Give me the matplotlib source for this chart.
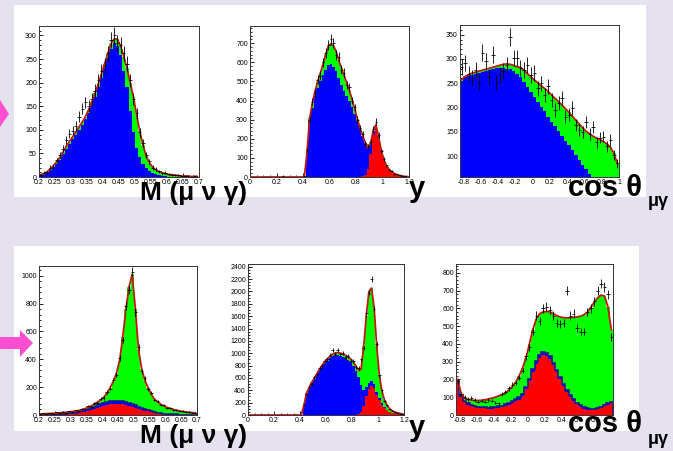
import numpy as np
import matplotlib.pyplot as plt
from matplotlib.patches import Rectangle, Polygon
from matplotlib.ticker import MultipleLocator, FormatStrFormatter

plt.rcParams['font.family'] = ['Liberation Sans', 'DejaVu Sans']

# ---- top row: M(mu nu gamma), y, cos theta ----
m_lo, m_hi = 0.2, 0.7
red1 = [0,0,0,0,0,0,0,0,0,0, 0,0,0,0,0,0,0,0,0,0, 0,0,0,0,0,0,0,0,0,0,
        0,0,0,0,0,0,0,0,0,0, 0,0,0,0,0,0,0,0,0,0]
blue1 = [2,4,8,14,20,28,37,48,60,70, 80,90,100,110,122,136,152,170,190,210,
         232,252,272,283,278,258,225,190,140,95, 62,42,28,19,13,9,6,4,3,2,
         1,1,1,0,0,0,0,0,0,0]
green1 = [3,3,3,3,4,4,4,4,5,5, 5,5,6,6,6,6,7,7,7,8, 8,9,10,10,14,20,30,40,60,75,
          70,55,40,25,17,12,9,7,6,5, 4,4,3,3,2,2,2,1,1,1]
data1 = [4,9,10,20,22,35,46,60,78,92, 98,108,128,145,158,150,165,183,205,225,
         236,262,290,300,285,280,262,240,205,165, 135,95,72,46,33,20,18,12,8,9,
         6,5,4,4,2,3,2,1,2,1]

y_lo, y_hi = 0.0, 1.2
red2 = [0]*21 + [2,2,2,2,2,2,2,2,2,2, 2,2,2,2,2,2,2,2,2,2,
                 2,3,12,40,120,220,265,210,140,90, 60,40,27,18,12,8,5,3,2]
blue2 = [0]*21 + [120,290,360,420,465,500,530,560,585,590,
                  575,550,515,480,450,420,395,365,330,290,
                  250,210,165,110,55,20,8,3,1,0, 0,0,0,0,0,0,0,0,0]
green2 = [0]*21 + [5,15,20,25,30,40,55,75,95,105,
                   110,105,95,88,80,70,55,40,25,12,
                   6,4,3,2,2,2,1,1,1,1, 0,0,0,0,0,0,0,0,0]
data2 = [0,0,0,0,0,2,0,0,0,0, 0,0,3,0,0,0,0,0,1,0, 4,
         140,300,395,440,510,530,600,650,690,720,
         700,640,630,560,545,480,470,400,365,300,
         255,225,175,160,185,250,290,220,135,95,
         62,38,30,16,14,9,5,4,2]

c_lo, c_hi = -0.84, 1.0
red3 = [0,0,0,0,0,0,0,0,0,0, 0,0,0,0,0,0,0,0,0,0, 0,0,0,0,0,0,0,0,0,0,
        0,0,0,0,0,0,0,0,0,0, 0,0,0,0,0,0]
blue3 = [255,262,266,268,270,272,274,276,278,280, 281,281,281,280,279,276,270,262,252,242,
         232,222,212,202,192,181,171,161,152,142, 132,122,112,102,92,82,73,64,56,48,
         40,32,25,18,12,6]
green3 = [3,2,2,3,3,3,3,3,3,3, 4,6,8,10,10,11,14,21,25,28,
          31,35,39,43,47,52,55,58,60,63, 66,68,70,72,74,76,78,82,85,89,
          94,98,100,100,94,79]
data3 = [284,292,270,261,278,251,313,295,263,309, 251,267,275,288,346,302,302,282,278,288,
         267,271,240,250,226,244,215,195,209,220, 181,185,199,164,154,150,170,145,160,129,
         138,140,120,133,102,85]

# ---- bottom row ----
red4 = [2,2,2,3,3,4,5,6,7,8, 10,12,15,19,24,30,37,44,52,60,
        67,72,76,79,80,79,76,72,66,60, 53,46,39,32,26,20,16,12,9,7,
        5,4,3,3,2,2,2,1,1,1]
blue4 = [1,1,1,1,2,2,2,3,3,3, 4,5,6,8,10,12,14,16,18,20,
         21,22,23,23,23,23,22,21,20,18, 16,14,12,10,8,7,6,5,4,3,
         3,2,2,2,1,1,1,1,1,1]
green4 = [5,6,7,7,7,8,9,9,10,11, 11,11,11,11,11,13,14,18,22,28,
          40,61,96,138,197,288,462,667,834,932, 691,410,279,208,161,123,93,78,65,55,
          47,41,35,29,26,22,19,17,15,13]
data4 = [5,12,8,14,10,18,13,22,17,26, 22,33,30,44,40,62,60,84,88,115,
         122,165,190,250,290,410,540,780,900,1030, 740,490,315,265,185,160,108,100,72,70,
         50,52,36,38,26,28,18,22,14,17]

red5 = [0]*21 + [2,2,2,2,2,2,2,2,2,2, 2,2,2,2,2,2,2,2,2,2, 2,
                 10,50,150,300,420,470,430,330,240,170,115,75,50,35,25,17,12,8]
blue5 = [0]*21 + [150,340,430,510,580,650,720,780,835,880,
                  920,950,965,970,960,945,920,890,850,790, 710,
                  600,440,260,160,100,85,65,45,30,20,14,9,6,4,3,2,1,1]
green5 = [0]*21 + [5,10,12,15,15,18,20,22,25,28,
                   30,32,35,38,40,42,45,50,55,65, 80,
                   110,250,700,1150,1480,1500,1250,750,380,200,110,70,45,30,20,14,10,7]
data5 = [0,0,0,0,0,0,0,0,0,0, 0,0,0,0,0,0,0,0,0,0, 0,
         170,340,460,510,610,660,760,790,880,900,
         970,1060,990,1050,980,1010,940,960,880,870, 780,
         760,900,1080,1650,1980,2200,1720,1150,640,400,230,160,95,72,45,35,20,18]

red6 = [190,104,74,59,50,44,40,38,37,36, 36,38,40,45,51,58,67,76,87,106,
        145,189,243,287,320,337,332,313,279,240, 201,162,128,99,78,61,47,36,30,28,
        29,33,39,48,58,68]
blue6 = [6,6,6,6,6,6,6,6,6,6, 7,7,8,8,9,10,11,12,13,14,
         15,16,17,18,18,18,18,17,16,15, 14,13,12,11,10,9,8,8,7,7,
         7,7,7,7,7,7]
green6 = [4,10,15,23,28,32,36,39,43,48, 52,55,60,62,65,72,82,97,120,145,
          160,195,220,235,232,225,233,250,275,305, 337,373,407,438,462,482,501,521,543,570,
          599,620,629,615,545,405]
data6 = [190,120,100,90,95,85,75,80,75,85, 80,70,65,120,130,150,170,180,210,250,
         330,380,470,560,530,600,610,590,560,520, 510,520,700,560,570,490,470,470,580,600,
         640,700,740,720,680,440]

xt_m = [0.2, 0.25, 0.3, 0.35, 0.4, 0.45, 0.5, 0.55, 0.6, 0.65, 0.7]
xt_y = [0, 0.2, 0.4, 0.6, 0.8, 1, 1.2]
xt_c = [-0.8, -0.6, -0.4, -0.2, 0, 0.2, 0.4, 0.6, 0.8, 1]

W, H = 673, 451
fig = plt.figure(figsize=(6.73, 4.51), dpi=100)
fig.patch.set_facecolor('#e5e1ef')


def box(l, t, r, b):
    return [l / W, 1 - b / H, (r - l) / W, (b - t) / H]


def pts(seq):
    return [(x / W, 1 - y / H) for x, y in seq]


# white slide panels and pink arrows
for l, t, r, b in [(14, 5, 646, 197), (14, 246, 639, 431)]:
    fig.patches.append(Rectangle((l / W, 1 - b / H), (r - l) / W, (b - t) / H,
                                 transform=fig.transFigure, facecolor='white',
                                 edgecolor='none', zorder=-1))
fig.patches.append(Polygon(pts([(0, 100), (9, 114), (0, 127)]), closed=True,
                           transform=fig.transFigure, facecolor='#ff4fd0', edgecolor='none'))
fig.patches.append(Polygon(pts([(0, 337), (20, 337), (20, 330), (33, 343), (20, 357),
                                (20, 349), (0, 349)]), closed=True,
                           transform=fig.transFigure, facecolor='#ff4fd0', edgecolor='none'))


def draw(rect, lo, hi, red, blue, green, data, ylim, xt, xminor, ymajor, yminor, edge=False):
    ax = fig.add_axes(rect)
    edges = np.linspace(lo, hi, len(red) + 1)
    centers = 0.5 * (edges[1:] + edges[:-1])
    r = np.array(red, float)
    b = r + np.array(blue, float)
    g = b + np.array(green, float)
    ax.stairs(r, edges, baseline=0, fill=True, color='#ff0000', lw=0)
    ax.stairs(b, edges, baseline=r, fill=True, color='#0000ff', lw=0)
    ax.stairs(g, edges, baseline=b, fill=True, color='#00ff00', lw=0)
    if edge:
        ax.stairs(b, edges, color='#1a1a8c', lw=1.2)
    ax.plot(centers, g, color='#c01a10', lw=1.3)
    d = np.array(data, float)
    m = d > 0
    ax.errorbar(centers[m], d[m], yerr=np.sqrt(d[m]), xerr=(edges[1] - edges[0]) / 2,
                fmt='none', ecolor='black', elinewidth=0.6, capsize=0)
    ax.set_xlim(lo, hi)
    ax.set_ylim(*ylim)
    ax.set_xticks(xt)
    ax.xaxis.set_major_formatter(FormatStrFormatter('%g'))
    ax.xaxis.set_minor_locator(MultipleLocator(xminor))
    ax.yaxis.set_major_locator(MultipleLocator(ymajor))
    ax.yaxis.set_minor_locator(MultipleLocator(yminor))
    ax.set_axisbelow(True)
    ax.tick_params(which='both', direction='in', top=False, right=False,
                   labelsize=5, pad=1.5, width=0.6)
    ax.tick_params(which='major', length=3.2)
    ax.tick_params(which='minor', length=1.7)
    for s in ax.spines.values():
        s.set_linewidth(0.7)
        s.set_color('#333333')
    return ax


draw(box(39, 26, 199, 177), m_lo, m_hi, red1, blue1, green1, data1, (0, 320), xt_m, 0.01, 50, 10)
draw(box(250, 26, 409, 177), y_lo, y_hi, red2, blue2, green2, data2, (0, 790), xt_y, 0.05, 100, 20)
draw(box(460, 25, 619, 177), c_lo, c_hi, red3, blue3, green3, data3, (57, 370), xt_c, 0.05, 50, 10)
draw(box(39, 266, 197, 415), m_lo, m_hi, red4, blue4, green4, data4, (0, 1070), xt_m, 0.01, 200, 40, edge=True)
draw(box(248, 264, 404, 415), y_lo, y_hi, red5, blue5, green5, data5, (0, 2445), xt_y, 0.05, 200, 50)
draw(box(456, 264, 613, 415), c_lo, c_hi, red6, blue6, green6, data6, (0, 850), xt_c, 0.05, 100, 20, edge=True)

lab_m = dict(fontsize=19, fontweight='bold', ha='left', va='baseline', color='black')
lab_c = dict(fontsize=21, fontweight='bold', ha='left', va='baseline', color='black')
sub = dict(fontsize=13, fontweight='bold', ha='left', va='baseline', color='black')
for base_m, base_y, base_c, base_s in [(200, 197, 196, 206), (443, 436, 432, 444)]:
    fig.text(140 / W, 1 - base_m / H, 'M (μ ν γ)', **lab_m)
    fig.text(409 / W, 1 - base_y / H, 'y', **lab_c)
    fig.text(568 / W, 1 - base_c / H, 'cos θ', **lab_c)
    fig.text(648 / W, 1 - base_s / H, 'μγ', **sub)

fig.savefig('out.png', dpi=100)
